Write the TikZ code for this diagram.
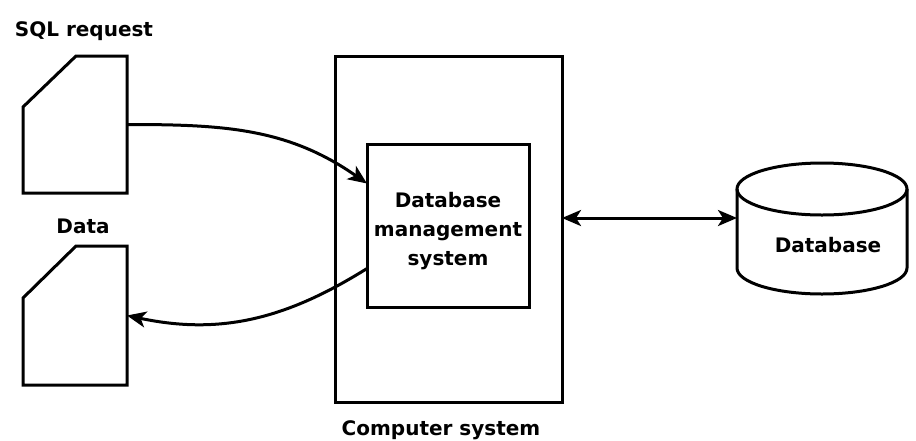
\documentclass[tikz,border=0pt]{standalone}
\usepackage{fontspec}
\setmainfont{DejaVu Sans}
\usetikzlibrary{calc,arrows.meta}
\tikzset{
  line/.style={line width=3pt, draw=black},
  tip/.tip={Stealth[length=19pt,width=16pt,inset=5pt]},
  arr/.style={line, -tip},
  darr/.style={line, tip-tip},
  lbl/.style={font=\fontsize{20}{29}\selectfont\bfseries, inner sep=0pt},
  area/.style={inner sep=0pt, outer sep=0pt}
}
\begin{document}
\begin{tikzpicture}[x=1pt,y=-1pt]
\useasboundingbox[fill=white] (0,0) rectangle (916,440);
% cards
\node[area, minimum width=104pt, minimum height=137pt, anchor=north west] (sql) at (23,56) {};
\draw[line, line join=miter] ($(sql.north west)+(0,51)$) -- ($(sql.north west)+(53,0)$) -- (sql.north east) -- (sql.south east) -- (sql.south west) -- cycle;
\node[area, minimum width=104pt, minimum height=139pt, anchor=north west] (data) at (23,246) {};
\draw[line, line join=miter] ($(data.north west)+(0,52)$) -- ($(data.north west)+(53,0)$) -- (data.north east) -- (data.south east) -- (data.south west) -- cycle;
\node[lbl, anchor=base] (sqlt) at (84,36) {SQL request};
\node[lbl, anchor=base] (datat) at (83,233) {Data};
% computer system
\node[line, area, minimum width=227pt, minimum height=346pt, anchor=north west] (cs) at (335,56) {};
\node[lbl, anchor=base] (cst) at (441,435) {Computer system};
% DBMS
\node[line, area, minimum width=162pt, minimum height=163pt, anchor=north west] (dbms) at (367,144) {};
\node[lbl, align=center] (dbmst) at (448,231) {Database\\management\\system};
% database cylinder
\node[area, minimum width=170pt, minimum height=131pt, anchor=north west] (db) at (737,163) {};
\draw[line] (737,189) -- (737,268) arc[start angle=180, end angle=360, x radius=85pt, y radius=26pt] -- (907,189);
\draw[line] (822,189) ellipse [x radius=85pt, y radius=26pt];
\node[lbl, anchor=base] (dbt) at (828,252) {Database};
% connectors
\draw[arr] (sql.east) to[out=0, in=145] ($(dbms.west)+(0,-42)$);
\draw[arr] ($(dbms.west)+(0,43)$) to[out=212, in=-12] (data.east);
\draw[darr] ($(cs.east)+(0,-11)$) -- ($(db.west)+(0,-10.5)$);
\end{tikzpicture}
\end{document}
